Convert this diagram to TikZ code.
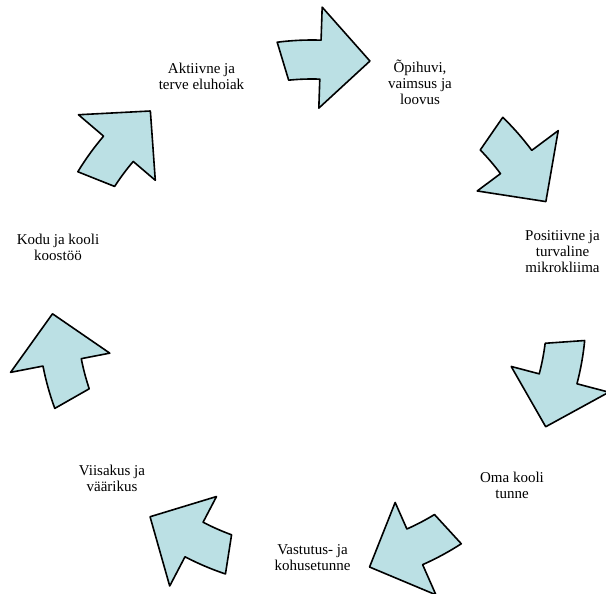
\documentclass[tikz,border=0pt]{standalone}
\usepackage{fontspec}
\setmainfont{Liberation Serif}
\usepackage{tikz}
\usetikzlibrary{calc}

\definecolor{arrowblue}{RGB}{187,224,228}

% one bent block arrow of the ring, tip at angle #1
\newcommand{\ringarrow}[1]{
    \draw[ringpiece] (#1+20.2:274) arc[start angle=#1+20.2, end angle=#1+11, radius=274]
        -- (#1+11:307) -- (#1:259.5) -- (#1+11:206) -- (#1+11:235)
        arc[start angle=#1+11, end angle=#1+18.6, radius=235] -- cycle;
}

\begin{document}
\begin{tikzpicture}[
            x = 1pt, y = 1pt, % one unit is one pixel
            line join = round,
            semithick % line style
        ]

        \tikzstyle{ringpiece}=[
            draw = black,
            line width = 1.6pt,
            fill = arrowblue,
            shift = {(312,280)}
        ]
        \tikzstyle{label}=[
            align = center,
            inner sep = 0pt,
            font = \fontsize{15}{16}\selectfont
        ]

        \useasboundingbox (0,0) rectangle (606,594);

        \foreach \k in {0,...,6} {
            \pgfmathsetmacro{\tipangle}{77.1-\k*360/7}
            \ringarrow{\tipangle}
        }

        \node[label] (aktiivne) at (201.5,518) {Aktiivne ja\\terve eluhoiak};
        \node[label] (opihuvi) at (420,512) {Õpihuvi,\\vaimsus ja\\loovus};
        \node[label] (positiivne) at (562.5,342) {Positiivne ja\\turvaline\\mikrokliima};
        \node[label] (omakooli) at (512,109) {Oma kooli\\tunne};
        \node[label] (vastutus) at (312.5,36) {Vastutus- ja\\kohusetunne};
        \node[label] (viisakus) at (112,116) {Viisakus ja\\väärikus};
        \node[label] (kodu) at (58,347) {Kodu ja kooli\\koostöö};

  \end{tikzpicture}
\end{document}
